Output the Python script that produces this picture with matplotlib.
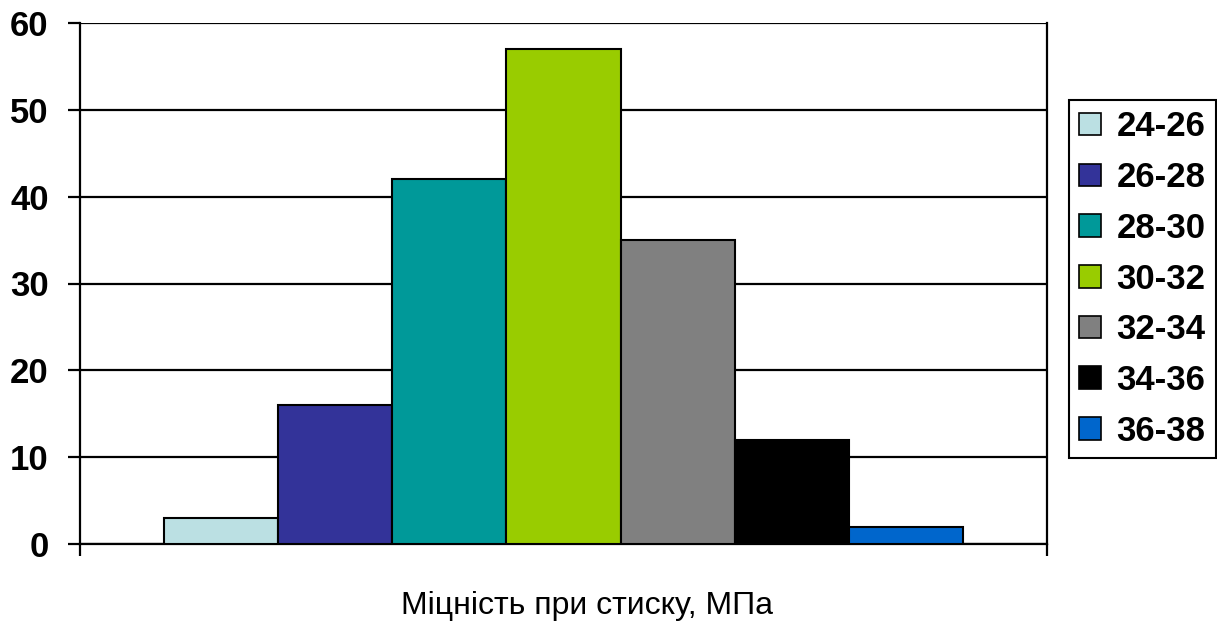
import matplotlib.pyplot as plt
from matplotlib.patches import Patch

plt.rcParams['font.family'] = ['Liberation Sans', 'DejaVu Sans']

# strength intervals (MPa) and number of samples in each
intervals = ["24-26", "26-28", "28-30", "30-32", "32-34", "34-36", "36-38"]
counts = [3, 16, 42, 57, 35, 12, 2]
colors = ["#BBE0E3", "#333399", "#009999", "#99CC00", "#808080", "#000000", "#0066CC"]

fig = plt.figure(figsize=(12.17, 6.24), dpi=100)
ax = fig.add_axes([80 / 1217, 80 / 624, 967 / 1217, 521 / 624])

pos = range(len(counts))
ax.bar(pos, counts, width=1.0, color=colors, edgecolor="black", linewidth=1.5, zorder=3)

ax.set_ylim(0, 60)
ax.set_yticks(range(0, 61, 10))
ax.yaxis.grid(True, color="black", linewidth=1.6, zorder=0)
ax.set_xlim(-1.237, 7.237)
ax.set_xticks([-1.237, 7.237])
ax.set_xticklabels([])

for sp in ax.spines.values():
    sp.set_linewidth(1.6)
ax.spines["top"].set_visible(False)

ax.tick_params(axis="y", length=8.6, width=1.6, labelsize=25, pad=14)
ax.tick_params(axis="x", length=8.6, width=1.6)
for lbl in ax.get_yticklabels():
    lbl.set_fontweight("bold")

fig.text(587 / 1217, 1 - 614 / 624, "Міцність при стиску, МПа", fontsize=23,
         ha="center", va="baseline")

handles = [Patch(facecolor=c, edgecolor="black", linewidth=1.2) for c in colors]
leg = fig.legend(handles, intervals, loc="upper left",
                 bbox_to_anchor=(1069 / 1217, 1 - 100 / 624),
                 prop={"size": 25, "weight": "bold"},
                 handlelength=0.62, handleheight=0.62, handletextpad=0.45,
                 labelspacing=0.51, borderpad=0.3, borderaxespad=0,
                 fancybox=False, framealpha=1, edgecolor="black")
leg.get_frame().set_linewidth(1.5)

fig.savefig("out.png", dpi=100)
